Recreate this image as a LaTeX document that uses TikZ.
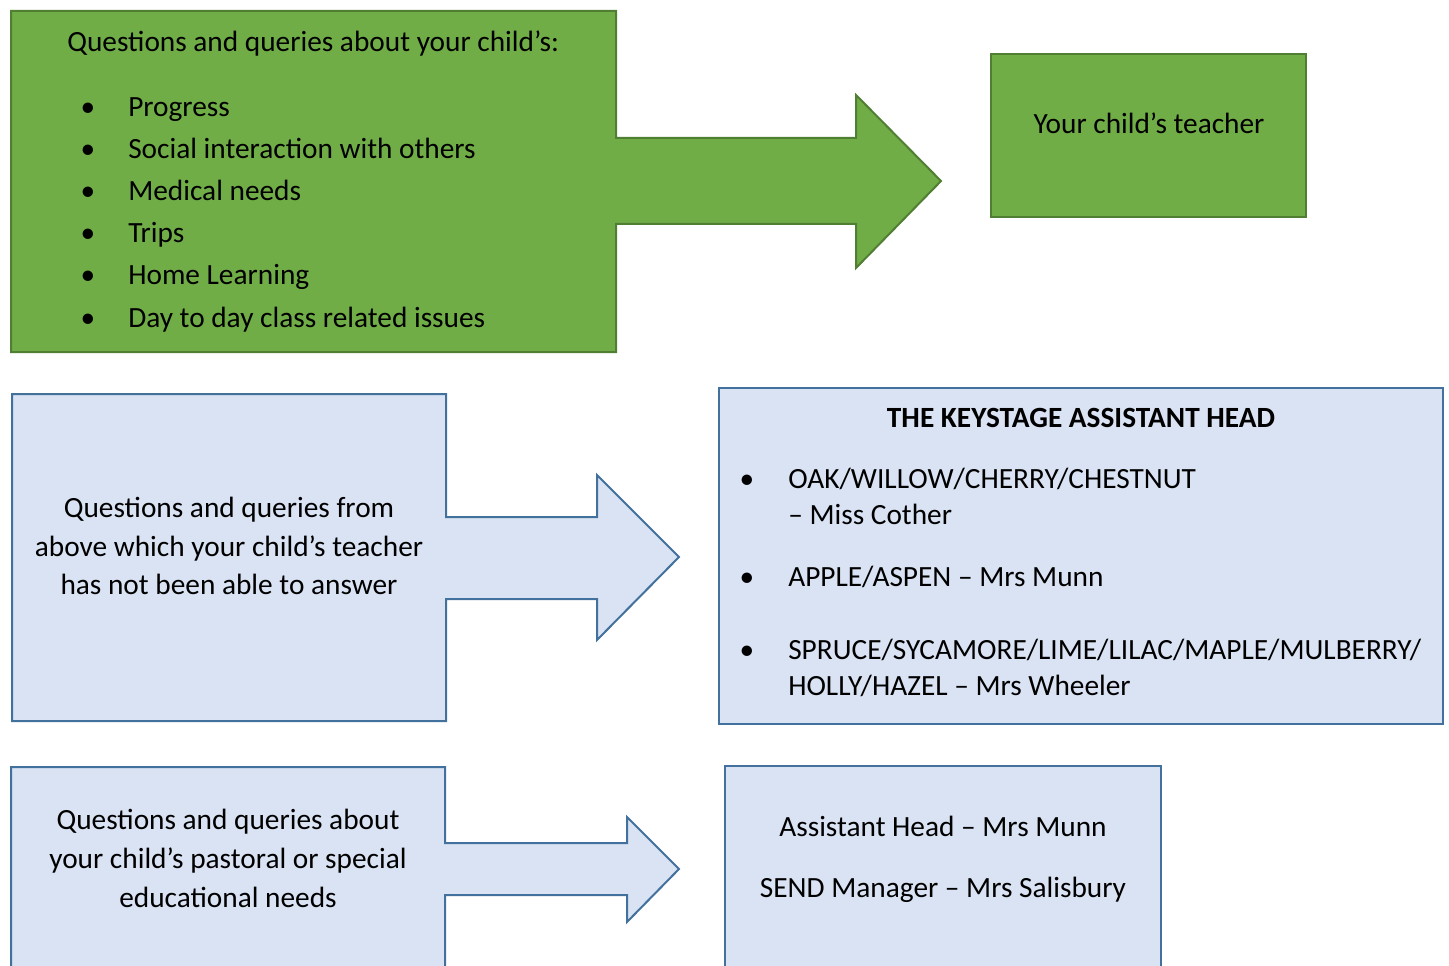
\documentclass[tikz,border=0pt]{standalone}
\usepackage{fontspec}
\setmainfont{Carlito}
\definecolor{boxgreen}{HTML}{70AD47}
\definecolor{edgegreen}{HTML}{507E32}
\definecolor{boxblue}{HTML}{DAE3F3}
\definecolor{edgeblue}{HTML}{41719C}
\tikzset{
  greenpart/.style={fill=boxgreen, draw=edgegreen, line width=1.5pt},
  bluepart/.style={fill=boxblue, draw=edgeblue, line width=1.5pt},
  words/.style={font=\fontsize{22}{26}\selectfont, inner sep=0pt},
}
\begin{document}
\begin{tikzpicture}[x=0.75pt, y=-0.75pt]
      \clip (0,0) rectangle (1449,966);
      % first row
      \draw[greenpart] (11,11) -- (616,11) -- (616,138) -- (856,138) -- (856,95)
        -- (941,181) -- (856,268) -- (856,224) -- (616,224) -- (616,352)
        -- (11,352) -- cycle;
      \draw[greenpart] (991,54) rectangle (1306,217);
      \node[words, anchor=base west] (ask) at (67,52) {Questions and queries about your child’s:};
      \node[words, anchor=base] (b1) at (88,117) {•};
      \node[words, anchor=base] (b2) at (88,159) {•};
      \node[words, anchor=base] (b3) at (88,201) {•};
      \node[words, anchor=base] (b4) at (88,243) {•};
      \node[words, anchor=base] (b5) at (88,285) {•};
      \node[words, anchor=base] (b6) at (88,327) {•};
      \node[words, anchor=base west] (progress) at (128,117) {Progress};
      \node[words, anchor=base west] (social) at (128,159) {Social interaction with others};
      \node[words, anchor=base west] (medical) at (128,201) {Medical needs};
      \node[words, anchor=base west] (trips) at (128,243) {Trips};
      \node[words, anchor=base west] (home) at (128,285) {Home Learning};
      \node[words, anchor=base west] (daily) at (128,327) {Day to day class related issues};
      \node[words, anchor=base] (teacher) at (1149,134) {Your child’s teacher};
      % second row
      \draw[bluepart] (12,394) -- (446,394) -- (446,517) -- (597,517) -- (597,475)
        -- (679,557) -- (597,640) -- (597,599) -- (446,599) -- (446,721)
        -- (12,721) -- cycle;
      \draw[bluepart] (719,388) rectangle (1443,724);
      \node[words, anchor=base] (above1) at (229,517) {Questions and queries from};
      \node[words, anchor=base] (above2) at (229,556) {above which your child’s teacher};
      \node[words, anchor=base] (above3) at (229,594) {has not been able to answer};
      \node[words, font=\fontsize{22}{26}\selectfont\bfseries, anchor=base] (kshead) at (1081,427) {THE KEYSTAGE ASSISTANT HEAD};
      \node[words, anchor=base] (k1) at (747,488) {•};
      \node[words, anchor=base] (k2) at (747,586) {•};
      \node[words, anchor=base] (k3) at (747,659) {•};
      \node[words, anchor=base west] (oak) at (788,488) {OAK/WILLOW/CHERRY/CHESTNUT};
      \node[words, anchor=base west] (cother) at (788,524) {– Miss Cother};
      \node[words, anchor=base west] (apple) at (788,586) {APPLE/ASPEN – Mrs Munn};
      \node[words, anchor=base west] (spruce) at (788,659) {SPRUCE/SYCAMORE/LIME/LILAC/MAPLE/MULBERRY/};
      \node[words, anchor=base west] (holly) at (788,695) {HOLLY/HAZEL – Mrs Wheeler};
      % third row
      \draw[bluepart] (11,767) -- (445,767) -- (445,843) -- (627,843) -- (627,817)
        -- (679,869) -- (627,922) -- (627,895) -- (445,895) -- (445,1000)
        -- (11,1000) -- cycle;
      \draw[bluepart] (725,766) rectangle (1161,1000);
      \node[words, anchor=base] (past1) at (228,829) {Questions and queries about};
      \node[words, anchor=base] (past2) at (228,868) {your child’s pastoral or special};
      \node[words, anchor=base] (past3) at (228,907) {educational needs};
      \node[words, anchor=base] (munn) at (943,836) {Assistant Head – Mrs Munn};
      \node[words, anchor=base] (send) at (943,897) {SEND Manager – Mrs Salisbury};
    \end{tikzpicture}
\end{document}
